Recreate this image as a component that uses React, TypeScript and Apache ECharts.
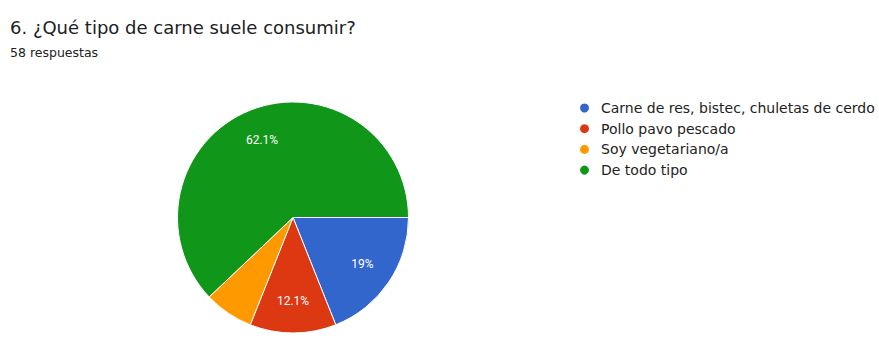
import React, { useEffect, useRef } from "react";
import * as echarts from "echarts";

const title = "6. ¿Qué tipo de carne suele consumir?";
const subtitle = "58 respuestas";
const categories = [
  "Carne de res, bistec, chuletas de cerdo",
  "Pollo pavo pescado",
  "Soy vegetariano/a",
  "De todo tipo",
];
const counts = [11, 7, 4, 36];
const colors = ["#3366cc", "#dc3912", "#ff9900", "#109618"];

export default function App() {
  const ref = useRef<HTMLDivElement>(null);
  useEffect(() => {
    if (!ref.current) return;
    const chart = echarts.init(ref.current, undefined, { renderer: "svg" });
    const total = counts.reduce((a, b) => a + b, 0);
    const data = categories.map((name, i) => ({
      name,
      value: counts[i],
      itemStyle: { color: colors[i] },
    }));
    chart.setOption({
      animation: false,
      backgroundColor: "#ffffff",
      title: [
        {
          text: title,
          left: 5,
          top: 13,
          textStyle: { fontFamily: "DejaVu Sans", fontSize: 18, fontWeight: "normal", color: "#202124" },
        },
        {
          text: subtitle,
          left: 5,
          top: 41,
          textStyle: { fontFamily: "DejaVu Sans", fontSize: 12.5, fontWeight: "normal", color: "#202124" },
        },
      ],
      legend: {
        orient: "vertical",
        left: 573,
        top: 96,
        icon: "circle",
        itemWidth: 11,
        itemHeight: 11,
        itemGap: 6.7,
        textStyle: {
          fontFamily: "DejaVu Sans",
          fontSize: 14,
          color: "#222222",
          padding: [0, 0, 0, 6],
        },
        data: categories,
      },
      series: [
        {
          type: "pie",
          center: [293, 217.5],
          radius: [0, 115.5],
          startAngle: 0,
          clockwise: true,
          label: { show: false },
          labelLine: { show: false },
          itemStyle: { borderColor: "#ffffff", borderWidth: 1 },
          data,
        },
        {
          type: "pie",
          center: [293, 217.5],
          radius: [46, 115.5],
          startAngle: 0,
          clockwise: true,
          silent: true,
          legendHoverLink: false,
          itemStyle: { color: "rgba(0,0,0,0)" },
          label: {
            show: true,
            position: "inside",
            color: "#ffffff",
            fontFamily: "Roboto",
            fontSize: 12,
            formatter: (p: any) => {
              const pct = (p.value / total) * 100;
              if (pct < 8) return "";
              const r = Math.round(pct * 10) / 10;
              return (Number.isInteger(r) ? r.toFixed(0) : r.toFixed(1)) + "%";
            },
          },
          labelLine: { show: false },
          data: categories.map((name, i) => ({ name: name + " ", value: counts[i] })),
        },
      ],
    });
    return () => chart.dispose();
  }, []);
  return (
    <div
      ref={ref}
      style={{ position: "fixed", left: 0, top: 0, width: 879, height: 356 }}
    />
  );
}
